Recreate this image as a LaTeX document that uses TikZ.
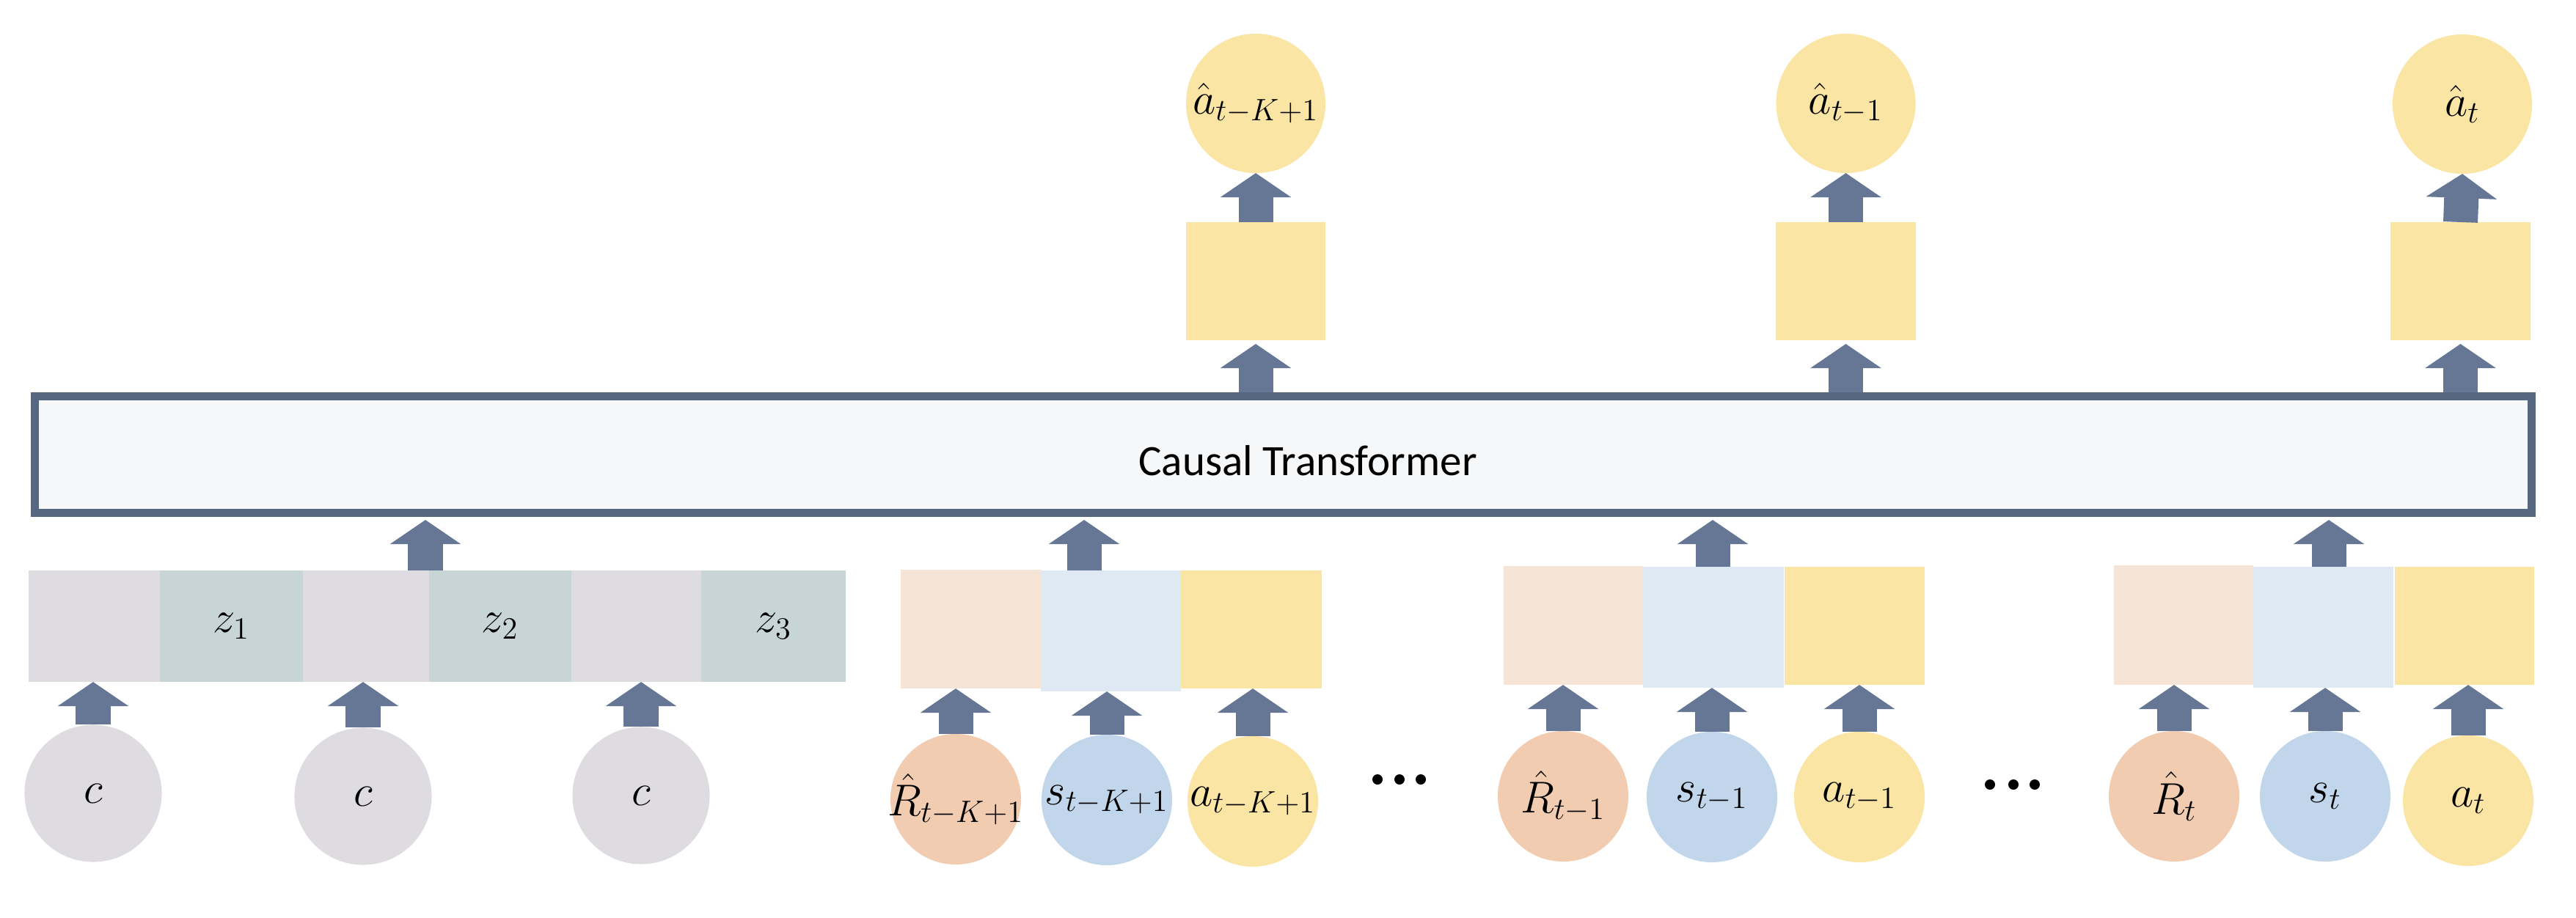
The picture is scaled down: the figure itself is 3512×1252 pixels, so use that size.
\documentclass[tikz,border=0pt]{standalone}
\usepackage{fontspec}
\setsansfont{Carlito}
\usetikzlibrary{arrows.meta}
\definecolor{tfborder}{HTML}{56677F}
\definecolor{tffill}{HTML}{F6F7F9}
\definecolor{arrowc}{HTML}{657794}
\definecolor{cgray}{HTML}{DEDCE0}
\definecolor{zgreen}{HTML}{C8D5D7}
\definecolor{rrect}{HTML}{F6E4D7}
\definecolor{rcirc}{HTML}{F1CCB1}
\definecolor{srect}{HTML}{DFE9F4}
\definecolor{scirc}{HTML}{C1D6EB}
\definecolor{ayel}{HTML}{FAE5A4}
\begin{document}
\begin{tikzpicture}[x=0.01cm,y=-0.01cm,
  mathf/.style={font=\fontsize{18}{21}\selectfont},
  blk/.style 2 args={rectangle, inner sep=0pt, outer sep=0pt, minimum width=#1cm, minimum height=#2cm, mathf},
  tok/.style={circle, inner sep=0pt, outer sep=0pt, minimum size=#1cm},
  lab/.style={label={[mathf]center:#1}},
  bigarrow/.style={arrowc, line width=0.47cm, -{Triangle[width=0.95cm,length=0.33cm]}},
  dotn/.style={circle, fill=black, inner sep=0pt, minimum size=0.14cm}]
\useasboundingbox (0,0) rectangle (3512,1252);

% transformer
\node[rectangle, draw=tfborder, fill=tffill, line width=0.11cm, minimum width=34.02cm, minimum height=1.59cm] (tf) at (1749.5,620) {};
\node[font=\sffamily\fontsize{16.8}{20}\selectfont] (tft) at (1783,628) {Causal Transformer};

% group A: c / z
\node[blk={1.79}{1.52}, fill=cgray] (g1) at (128.5,854) {};
\node[blk={1.95}{1.52}, fill=zgreen] (z1) at (315.5,854) {$z_1$};
\node[blk={1.72}{1.52}, fill=cgray] (g2) at (499,854) {};
\node[blk={1.94}{1.52}, fill=zgreen] (z2) at (682,854) {$z_2$};
\node[blk={1.77}{1.52}, fill=cgray] (g3) at (867.5,854) {};
\node[blk={1.97}{1.52}, fill=zgreen] (z3) at (1054.5,854) {$z_3$};
\node[tok=1.87, fill=cgray, lab={$c$}] (c1) at (127,1082) {};
\node[tok=1.87, fill=cgray, lab={$c$}] (c2) at (495,1086) {};
\node[tok=1.87, fill=cgray, lab={$c$}] (c3) at (874,1085) {};

% group B
\node[blk={1.91}{1.62}, fill=rrect] (rb) at (1323.5,858) {};
\node[blk={1.91}{1.65}, fill=srect] (sb) at (1514.5,860.5) {};
\node[blk={1.92}{1.61}, fill=ayel] (ab) at (1706,858.5) {};
\node[tok=1.78, fill=rcirc, lab={$\hat{R}_{t-K+1}$}] (rbc) at (1303,1090) {};
\node[tok=1.78, fill=scirc, lab={$s_{t-K+1}$}] (sbc) at (1509,1091) {};
\node[tok=1.78, fill=ayel, lab={$a_{t-K+1}$}] (abc) at (1708,1093) {};

% group C
\node[blk={1.90}{1.62}, fill=rrect] (rc) at (2145,853) {};
\node[blk={1.92}{1.65}, fill=srect] (sc) at (2336,855.5) {};
\node[blk={1.91}{1.61}, fill=ayel] (ac) at (2528.5,853.5) {};
\node[tok=1.78, fill=rcirc, lab={$\hat{R}_{t-1}$}] (rcc) at (2131,1086) {};
\node[tok=1.78, fill=scirc, lab={$s_{t-1}$}] (scc) at (2334,1087) {};
\node[tok=1.78, fill=ayel, lab={$a_{t-1}$}] (acc) at (2535,1087) {};

% group D
\node[blk={1.90}{1.63}, fill=rrect] (rd) at (2977,852.5) {};
\node[blk={1.91}{1.65}, fill=srect] (sd) at (3167.5,855.5) {};
\node[blk={1.90}{1.61}, fill=ayel] (ad) at (3360,853.5) {};
\node[tok=1.78, fill=rcirc, lab={$\hat{R}_t$}] (rdc) at (2964,1086) {};
\node[tok=1.78, fill=scirc, lab={$s_t$}] (sdc) at (3170,1086) {};
\node[tok=1.78, fill=ayel, lab={$a_t$}] (adc) at (3365,1092) {};

% dots
\node[dotn] (d1) at (1878,1063) {};
\node[dotn] (d2) at (1908,1063) {};
\node[dotn] (d3) at (1937,1063) {};
\node[dotn] (d4) at (2713,1070) {};
\node[dotn] (d5) at (2745,1070) {};
\node[dotn] (d6) at (2774,1070) {};

% top
\node[blk={1.90}{1.61}, fill=ayel] (t1) at (1712,383.5) {};
\node[blk={1.91}{1.61}, fill=ayel] (t2) at (2516.5,383.5) {};
\node[blk={1.91}{1.61}, fill=ayel] (t3) at (3354.5,383.5) {};
\node[tok=1.90, fill=ayel, lab={$\hat{a}_{t-K+1}$}] (o1) at (1712,141) {};
\node[tok=1.90, fill=ayel, lab={$\hat{a}_{t-1}$}] (o2) at (2516.5,141) {};
\node[tok=1.90, fill=ayel, lab={$\hat{a}_t$}] (o3) at (3357,142) {};

% arrows: tokens to embeddings
\foreach \c/\r in {c1/g1, c2/g2, c3/g3, rbc/rb, sbc/sb, abc/ab, rcc/rc, scc/sc, acc/ac, rdc/rd, sdc/sd, adc/ad}
  \draw[bigarrow] (\c.north) -- (\c.north |- \r.south);

% arrows: groups to transformer
\coordinate (xa) at (580,0);
\coordinate (xb) at (1478,0);
\coordinate (xc) at (2335,0);
\coordinate (xd) at (3175,0);
\draw[bigarrow, shorten >=0.04cm] (xa |- g2.north) -- (xa |- tf.south);
\draw[bigarrow, shorten >=0.04cm] (xb |- sb.north) -- (xb |- tf.south);
\draw[bigarrow, shorten >=0.04cm] (xc |- sc.north) -- (xc |- tf.south);
\draw[bigarrow, shorten >=0.04cm] (xd |- sd.north) -- (xd |- tf.south);

% arrows: transformer to outputs
\foreach \t/\o in {t1/o1, t2/o2, t3/o3} {
  \draw[bigarrow, shorten >=0.05cm] (\t.south |- tf.north) -- (\t.south);
  \draw[bigarrow] (\t.north) -- (\o.south);
}
\end{tikzpicture}
\end{document}
